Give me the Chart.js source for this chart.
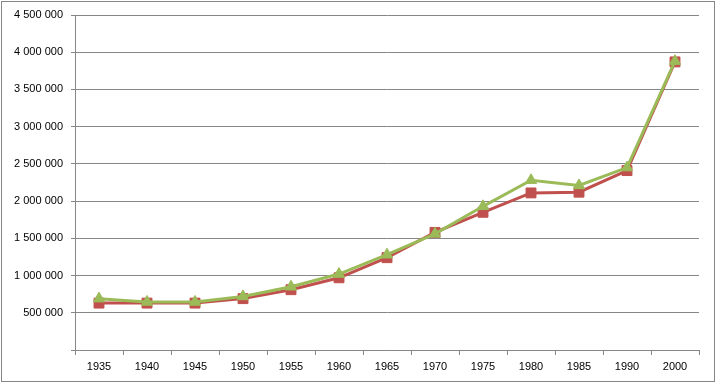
<!DOCTYPE html>
<html>
<head>
<meta charset="utf-8">
<script src="https://cdn.jsdelivr.net/npm/chart.js@4/dist/chart.umd.min.js"></script>
<style>
  html, body { margin: 0; padding: 0; background: #fff; }
  #wrap { position: relative; width: 718px; height: 383px; }
</style>
</head>
<body>
<div id="wrap"><canvas id="c" width="718" height="383"></canvas></div>
<script>
const categories = ['1935','1940','1945','1950','1955','1960','1965','1970','1975','1980','1985','1990','2000'];
const seriesRed   = [630000, 630000, 630000, 690000, 810000, 970000, 1240000, 1580000, 1850000, 2110000, 2120000, 2410000, 3870000];
const seriesGreen = [690000, 645000, 645000, 720000, 850000, 1020000, 1280000, 1560000, 1930000, 2280000, 2210000, 2450000, 3880000];
const yTicks = [0, 500000, 1000000, 1500000, 2000000, 2500000, 3000000, 3500000, 4000000, 4500000];

const gridColor = '#868686';
const fontSpec = { family: "'Liberation Sans', 'DejaVu Sans', sans-serif", size: 11 };

function fmt(v) {
  if (v === 0) return '';
  return String(v).replace(/\B(?=(\d{3})+(?!\d))/g, ' ');
}

const frame = {
  id: 'frame',
  beforeDraw(chart) {
    const ctx = chart.ctx;
    ctx.save();
    ctx.fillStyle = '#fff';
    ctx.fillRect(0, 0, chart.width, chart.height);
    ctx.restore();
  },
  afterDraw(chart) {
    const ctx = chart.ctx;
    ctx.save();
    ctx.strokeStyle = gridColor;
    ctx.lineWidth = 1;
    ctx.strokeRect(1.5, 1.5, 713, 380);
    ctx.restore();
  }
};

new Chart(document.getElementById('c'), {
  type: 'line',
  data: {
    labels: categories,
    datasets: [
      {
        label: 'Series 2',
        data: seriesGreen,
        borderColor: '#9BBB59',
        backgroundColor: '#9BBB59',
        borderWidth: 3,
        pointStyle: 'triangle',
        pointRadius: 6.5,
        pointBorderWidth: 1,
        tension: 0,
        order: 0
      },
      {
        label: 'Series 1',
        data: seriesRed,
        borderColor: '#C0504D',
        backgroundColor: '#C0504D',
        borderWidth: 3,
        pointStyle: 'rect',
        pointRadius: 7,
        pointBorderWidth: 1,
        tension: 0,
        order: 1
      }
    ]
  },
  options: {
    responsive: false,
    animation: false,
    devicePixelRatio: 1,
    layout: { padding: { left: 0, top: 15, right: 19, bottom: 0 } },
    plugins: { legend: { display: false }, tooltip: { enabled: false } },
    scales: {
      x: {
        offset: true,
        grid: { offset: true, drawOnChartArea: false, color: gridColor, tickLength: 5, tickColor: gridColor },
        border: { color: gridColor, width: 1 },
        ticks: { color: '#000', font: fontSpec, padding: 5, maxRotation: 0, autoSkip: false },
        afterFit(scale) { scale.height = 33; }
      },
      y: {
        min: 0,
        max: 4500000,
        afterBuildTicks(scale) { scale.ticks = yTicks.map(v => ({ value: v })); },
        grid: { color: gridColor, tickLength: 4, tickColor: gridColor },
        border: { color: gridColor, width: 1 },
        ticks: { color: '#000', font: fontSpec, padding: 8, callback: (v) => fmt(v) },
        afterFit(scale) { scale.width = 75; }
      }
    }
  },
  plugins: [frame]
});
</script>
</body>
</html>
